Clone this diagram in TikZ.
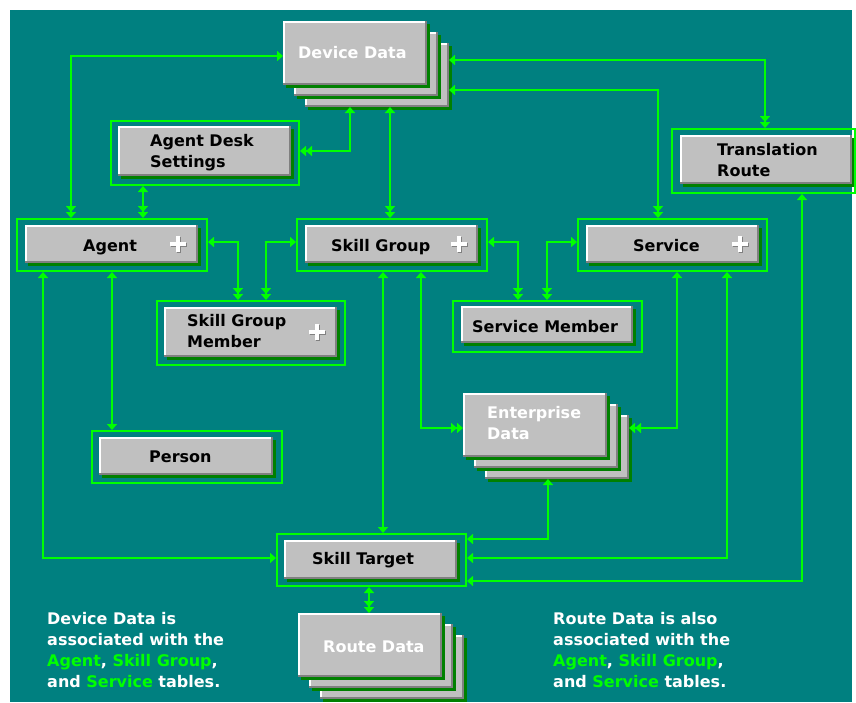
\documentclass[tikz,border=0pt]{standalone}
\usepackage{fontspec}
\setmainfont{DejaVu Sans}
\usetikzlibrary{arrows.meta}
\definecolor{teal0}{RGB}{0,128,128}
\definecolor{lime0}{RGB}{0,255,0}
\definecolor{dgreen}{RGB}{0,128,0}
\definecolor{bgray}{RGB}{192,192,192}
\definecolor{dgray}{RGB}{128,128,128}
\newcommand{\ibox}[4]{%
  \fill[dgreen] (#1+3,#2+3) rectangle (#3+3,#4+3);
  \fill[bgray] (#1,#2) rectangle (#3,#4);
  \draw[white,line width=1.5pt] (#1+0.75,#4-1) -- (#1+0.75,#2+0.75) -- (#3-1,#2+0.75);
  \draw[dgray,line width=2pt] (#1,#4-1) -- (#3-1,#4-1) -- (#3-1,#2);
}
\newcommand{\card}[2]{\ibox{#1}{#2}{#1+144}{#2+64}}
\newcommand{\cardstack}[2]{\card{#1+22}{#2+22}\card{#1+11}{#2+11}\card{#1}{#2}}
\newcommand{\plusmark}[2]{%
  \draw[dgray,line width=4pt] (#1-8+1,#2+1) -- (#1+8+1,#2+1) (#1+1,#2-8+1) -- (#1+1,#2+8+1);
  \draw[white,line width=4pt] (#1-8,#2) -- (#1+8,#2) (#1,#2-8) -- (#1,#2+8);
}
\tikzset{
  frm/.style={draw=lime0, line width=2pt, inner sep=0pt},
  stk/.style={inner sep=0pt, outer sep=0pt},
  conn/.style={draw=lime0, line width=1.7pt},
  lbl/.style={font=\fontsize{16}{21}\selectfont\bfseries, text=black, anchor=base west, inner sep=0pt},
  clbl/.style={lbl, text=white},
  note/.style={lbl, text=white},
  sgl/.tip={Triangle[width=10pt,length=6pt]},
  dbl/.tip={Triangle[width=10pt,length=6pt] Triangle[width=10pt,length=6pt]},
}
\begin{document}
\begin{tikzpicture}[x=1pt,y=-1pt]
\useasboundingbox (0,0) rectangle (856,702);
\fill[white] (0,0) rectangle (856,702);
\fill[teal0] (10,10) rectangle (852,702);

% inner boxes
\ibox{118}{126}{291}{176}
\ibox{25}{225}{198}{263}
\ibox{305}{225}{478}{263}
\ibox{586}{225}{759}{263}
\ibox{680}{135}{852}{184}
\ibox{164}{307}{337}{357}
\ibox{461}{306}{633}{343}
\ibox{99}{437}{273}{475}
\ibox{284}{540}{457}{579}
\plusmark{178}{244}
\plusmark{459}{244}
\plusmark{740}{244}
\plusmark{317}{332}

% card stacks
\cardstack{283}{21}
\cardstack{463}{393}
\cardstack{298}{613}

% frames
\node[frm, minimum width=188pt, minimum height=64pt] (ads) at (205,153) {};
\node[frm, minimum width=190pt, minimum height=52pt] (agent) at (112,245) {};
\node[frm, minimum width=190pt, minimum height=52pt] (sg) at (392,245) {};
\node[frm, minimum width=189pt, minimum height=52pt] (svc) at (672.5,245) {};
\node[frm, minimum width=183pt, minimum height=64pt] (tr) at (763.5,161) {};
\node[frm, minimum width=188pt, minimum height=64pt] (sgm) at (251,333) {};
\node[frm, minimum width=189pt, minimum height=51pt] (sm) at (547.5,326.5) {};
\node[frm, minimum width=190pt, minimum height=52pt] (person) at (187,457) {};
\node[frm, minimum width=189pt, minimum height=52pt] (st) at (371.5,560) {};
\node[stk, minimum width=166pt, minimum height=86pt] (dd) at (366,64) {};
\node[stk, minimum width=166pt, minimum height=86pt] (ed) at (546,436) {};
\node[stk, minimum width=167pt, minimum height=86pt] (rd) at (381.5,656) {};

% labels
\node[clbl] (ddT) at (298,58) {Device Data};
\node[lbl] (adsT1) at (150,146) {Agent Desk};
\node[lbl] (adsT2) at (150,167) {Settings};
\node[lbl] (agentT) at (83,251) {Agent};
\node[lbl] (sgT) at (331,251) {Skill Group};
\node[lbl] (svcT) at (633,251) {Service};
\node[lbl] (trT1) at (717,155) {Translation};
\node[lbl] (trT2) at (717,176) {Route};
\node[lbl] (sgmT1) at (187,326) {Skill Group};
\node[lbl] (sgmT2) at (187,347) {Member};
\node[lbl] (smT) at (472,332) {Service Member};
\node[clbl] (edT1) at (487,418) {Enterprise};
\node[clbl] (edT2) at (487,439) {Data};
\node[lbl] (personT) at (149,462) {Person};
\node[lbl] (stT) at (312,564) {Skill Target};
\node[clbl] (rdT) at (323,652) {Route Data};

% connectors
\draw[conn,dbl-sgl] (agent.north -| 71,0) |- (dd.west |- 0,56);
\draw[conn,dbl-sgl] (ads.east |- 0,151) -| (dd.south -| 350,0);
\draw[conn,sgl-dbl] (dd.south -| 390,0) -- (sg.north -| 390,0);
\draw[conn,sgl-dbl] (dd.east |- 0,60) -| (tr.north -| 765,0);
\draw[conn,sgl-dbl] (dd.east |- 0,90) -| (svc.north -| 658,0);
\draw[conn,sgl-dbl] (ads.south -| 143,0) -- (agent.north -| 143,0);
\draw[conn,sgl-dbl] (agent.east |- 0,242) -| (sgm.north -| 238,0);
\draw[conn,sgl-dbl] (sg.west |- 0,242) -| (sgm.north -| 266,0);
\draw[conn,sgl-dbl] (sg.east |- 0,242) -| (sm.north -| 518,0);
\draw[conn,sgl-dbl] (svc.west |- 0,242) -| (sm.north -| 547,0);
\draw[conn,sgl-sgl] (agent.south -| 112,0) -- (person.north -| 112,0);
\draw[conn,sgl-sgl] (agent.south -| 43,0) |- (st.west |- 0,558);
\draw[conn,sgl-sgl] (sg.south -| 383,0) -- (st.north -| 383,0);
\draw[conn,sgl-dbl] (sg.south -| 421,0) |- (ed.west |- 0,428);
\draw[conn,sgl-dbl] (svc.south -| 677,0) |- (ed.east |- 0,428);
\draw[conn,sgl-sgl] (svc.south -| 727,0) |- (st.east |- 0,558);
\draw[conn,sgl-sgl] (ed.south -| 548,0) |- (st.east |- 0,539);
\draw[conn,sgl-sgl] (tr.south -| 802,0) |- (st.east |- 0,581);
\draw[conn,sgl-dbl] (st.south -| 369,0) -- (rd.north -| 369,0);

% notes
\node[note] (n1a) at (47,624) {Device Data is};
\node[note] (n1b) at (47,645) {associated with the};
\node[note] (n1c) at (47,666) {\textcolor{lime0}{Agent}, \textcolor{lime0}{Skill Group},};
\node[note] (n1d) at (47,687) {and \textcolor{lime0}{Service} tables.};
\node[note] (n2a) at (553,624) {Route Data is also};
\node[note] (n2b) at (553,645) {associated with the};
\node[note] (n2c) at (553,666) {\textcolor{lime0}{Agent}, \textcolor{lime0}{Skill Group},};
\node[note] (n2d) at (553,687) {and \textcolor{lime0}{Service} tables.};
\end{tikzpicture}
\end{document}
